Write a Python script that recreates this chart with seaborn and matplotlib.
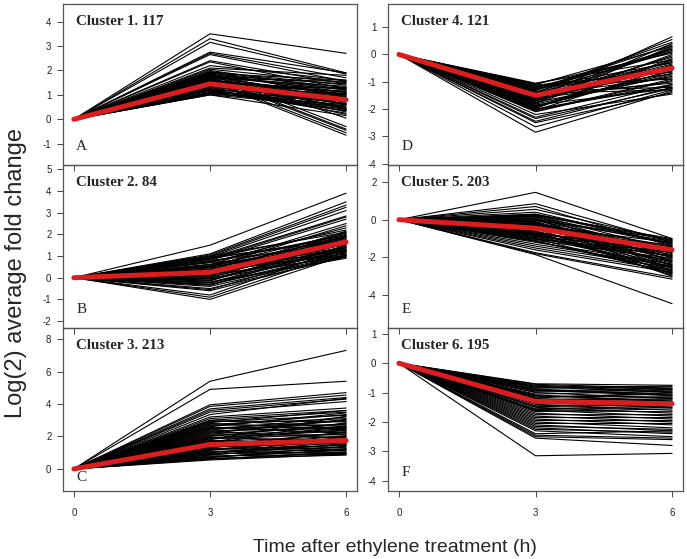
# Six cluster panels: gene expression profiles with mean line in red
import numpy as np
import pandas as pd
import matplotlib
matplotlib.use("Agg")
import matplotlib.pyplot as plt
import seaborn as sns

times = [0, 3, 6]

# values at 3 h and 6 h for each gene line (all start at 0)
c1_t3 = [3.5, 3.3, 3.15, 2.75, 2.7, 2.65, 2.4, 2.35, 2.2, 2.1,
         2.05, 2.0, 1.95, 1.95, 1.9, 1.85, 1.85, 1.8, 1.8, 1.75,
         1.75, 1.7, 1.7, 1.65, 1.6, 1.6, 1.55, 1.5, 1.5, 1.45,
         1.45, 1.4, 1.4, 1.35, 1.3, 1.3, 1.25, 1.2, 1.2, 1.15,
         1.1, 1.1, 1.05, 1.0, 1.0,
         1.85, 1.75, 1.7, 1.6, 1.55, 1.9,
         1.92, 1.78, 1.62, 1.48, 1.38, 1.28, 1.18, 1.08, 1.68, 1.52,
         1.33, 1.22, 1.02, 1.88, 1.58]
c1_t6 = [2.7, 1.9, 1.85, 1.9, 1.7, 1.55, 1.45, 1.25, 1.6, 1.8,
         1.5, 1.2, 1.4, 0.9, 1.3, 1.1, 0.6, 1.45, 0.8, 1.2,
         0.4, 1.0, 1.35, 0.7, 1.1, 0.3, 0.9, 1.25, 0.5, 1.0,
         0.75, 1.15, 0.2, 0.85, 1.05, 0.45, 0.65, 0.95, 0.25, 0.55,
         0.8, 0.35, 0.6, 0.15, 0.5,
         -0.3, -0.4, -0.45, -0.55, -0.65, 0.05,
         0.95, 1.25, 0.45, 1.15, 0.65, 1.3, 0.35, 0.85, 1.55, 0.6,
         1.0, 0.4, 0.75, 1.6, 1.05]
c1_mean = [0, 1.45, 0.8]

c2_t3 = [1.5, 1.1, 1.05, 1.0, 0.95, 0.9, 0.85, 0.8, 0.6, 0.5, 0.7,
         -1.0, -0.9, -0.8, -0.6, -0.55, -0.5,
         1.0, 0.95, 0.9, 0.8, 0.75, 0.7, 0.6, 0.55, 0.5, 0.45,
         0.4, 0.35, 0.3, 0.25, 0.2, 0.2, 0.15, 0.1, 0.05, 0.0,
         -0.05, -0.1, -0.15, -0.2, -0.25, -0.3, -0.35, -0.4,
         0.88, 0.72, 0.62, 0.48, 0.38, 0.28, 0.18, 0.08, -0.02, -0.12,
         -0.22, -0.32, 0.52, 0.32, 0.12]
c2_t6 = [3.9, 3.5, 3.35, 3.25, 3.1, 2.85, 2.8, 2.7, 2.5, 2.4, 2.3,
         1.05, 1.2, 1.4, 1.0, 1.3, 0.95,
         2.1, 1.7, 2.2, 1.5, 1.95, 1.2, 1.8, 2.05, 1.4, 1.0,
         1.9, 1.6, 1.1, 2.15, 1.35, 1.75, 0.95, 1.55, 1.25, 1.85,
         1.05, 1.45, 1.65, 0.9, 1.3, 1.15, 1.5, 1.0,
         1.85, 2.0, 1.3, 1.65, 1.95, 1.1, 1.55, 2.1, 1.2, 1.7,
         1.4, 1.05, 1.75, 1.25, 1.9]
c2_mean = [0, 0.25, 1.65]

c3_t3 = [5.4, 4.9, 3.95, 3.85, 3.7, 3.6, 3.5, 3.35, 3.2, 3.1,
         3.0, 2.95, 2.9, 2.8, 2.75, 2.7, 2.6, 2.55, 2.5, 2.4,
         2.35, 2.3, 2.2, 2.15, 2.1, 2.0, 1.95, 1.9, 1.8, 1.75,
         1.7, 1.6, 1.55, 1.5, 1.45, 1.4, 1.35, 1.3, 1.25, 1.2,
         1.15, 1.1, 1.05, 1.0, 0.95, 0.9, 0.85, 0.8, 0.75, 0.7,
         0.65, 0.6, 0.55,
         2.98, 2.65, 2.45, 2.25, 2.05, 1.85, 1.65, 1.48, 1.32, 1.18,
         1.02, 0.88, 0.72, 0.62, 2.85, 2.52, 1.92, 1.58]
c3_t6 = [7.3, 5.4, 4.7, 4.55, 4.4, 4.3, 4.15, 4.35, 3.75, 3.6,
         3.5, 2.9, 3.3, 2.4, 3.1, 2.7, 3.45, 2.2, 2.95, 3.2,
         2.5, 1.9, 3.0, 2.6, 2.1, 2.8, 1.7, 2.35, 3.25, 1.5,
         2.0, 2.65, 1.3, 1.8, 2.25, 1.2, 1.6, 2.05, 1.1, 1.45,
         1.85, 0.95, 1.35, 1.65, 1.0, 1.25, 1.55, 0.9, 1.15, 1.4,
         0.85, 1.05, 0.9,
         2.6, 3.35, 2.75, 3.05, 2.45, 2.15, 2.85, 1.75, 2.3, 1.95,
         1.5, 2.0, 1.2, 1.0, 3.6, 2.55, 2.4, 1.75]
c3_mean = [0, 1.5, 1.75]

c4_t3 = [-2.85, -2.65, -2.5, -2.45, -2.35, -2.3, -2.2,
         -1.6, -1.4, -1.3, -1.7,
         -1.05, -1.1, -1.15, -1.2, -1.25, -1.3, -1.35, -1.4, -1.45, -1.5,
         -1.55, -1.6, -1.65, -1.7, -1.75, -1.8, -1.85, -1.9, -1.95, -2.0,
         -2.05, -2.1, -1.12, -1.28, -1.42, -1.58, -1.72, -1.88,
         -1.08, -1.18, -1.32, -1.48, -1.62, -1.78, -1.92, -2.02, -1.22, -1.38,
         -1.52, -1.68, -1.82, -1.98, -2.08]
c4_t6 = [-1.35, -1.3, -1.4, -1.2, -1.25, -1.1, -1.45,
         0.65, 0.55, 0.45, 0.4,
         -0.2, 0.3, -0.9, 0.1, -0.5, 0.35, -1.2, -0.3, 0.2, -0.7,
         -0.1, -1.0, 0.25, -0.4, -0.8, 0.0, -1.25, -0.6, -0.15, -1.1,
         -0.45, -0.95, -0.65, 0.15, -1.3, -0.35, -0.05, -0.75,
         0.05, -0.55, 0.2, -0.85, -0.25, 0.3, -0.6, -1.15, -0.3, 0.1,
         -1.05, -0.4, -0.7, -0.2, -0.9]
c4_mean = [0, -1.5, -0.5]

c5_t3 = [1.45, 0.85, 0.7, 0.55, 0.4,
         -1.85, -1.8, -1.75, -1.6, -1.5, -1.4, -1.3,
         0.3, 0.25, 0.2, 0.15, 0.1, 0.05, 0.0, -0.05, -0.1, -0.15,
         -0.2, -0.25, -0.3, -0.35, -0.4, -0.45, -0.5, -0.55, -0.6, -0.65,
         -0.7, -0.75, -0.8, -0.85, -0.9, -0.95, -1.0, -1.05, -1.1, -1.15,
         -1.2,
         0.28, 0.18, 0.08, -0.02, -0.12, -0.22, -0.32, -0.42, -0.52, -0.62,
         -0.72, -0.82, -0.92, -1.02, -1.12, 0.22, -0.28, -0.78]
c5_t6 = [-1.0, -1.2, -1.4, -1.1, -1.3,
         -4.45, -3.15, -3.05, -2.8, -2.7, -2.55, -2.45,
         -1.1, -1.6, -2.2, -1.3, -1.9, -2.6, -1.05, -1.5, -2.0, -2.9,
         -1.4, -1.75, -2.4, -1.2, -2.1, -3.0, -1.65, -1.35, -2.3, -1.85,
         -2.75, -1.45, -1.95, -2.5, -1.55, -2.15, -2.85, -1.7, -2.05, -2.65,
         -2.35,
         -1.25, -1.8, -2.45, -1.15, -2.7, -1.55, -2.0, -2.25, -1.45, -2.95,
         -1.75, -2.2, -2.55, -1.9, -2.8, -1.0, -1.6, -2.4]
c5_mean = [0, -0.45, -1.6]

c6_t3 = [-3.15, -2.55, -2.5, -2.45, -2.4,
         -0.7, -0.75, -0.8, -0.85, -0.9, -0.95, -1.0, -1.05, -1.1, -1.15,
         -1.2, -1.25, -1.3, -1.35, -1.4, -1.45, -1.5, -1.55, -1.6, -1.65,
         -1.7, -1.8, -1.9, -2.0, -2.1, -2.2, -2.3, -0.78, -0.92, -1.08,
         -0.72, -0.82, -0.88, -0.98, -1.12, -1.18, -1.22, -1.32, -1.38, -1.48,
         -1.58, -1.62, -1.75, -1.85, -1.95, -2.05, -2.15, -2.25]
c6_t6 = [-3.07, -2.8, -2.6, -2.55, -2.3,
         -0.75, -0.9, -1.0, -0.8, -1.1, -0.85, -1.2, -0.95, -1.3, -1.05,
         -1.4, -1.15, -1.5, -1.25, -1.6, -1.35, -1.7, -1.45, -1.8, -1.55,
         -1.9, -2.0, -2.1, -2.2, -2.3, -2.4, -2.5, -0.95, -1.1, -1.3,
         -0.85, -0.78, -1.05, -0.9, -1.15, -1.0, -1.25, -1.2, -1.35, -1.4,
         -1.5, -1.65, -1.75, -1.85, -1.95, -2.05, -2.25, -2.35]
c6_mean = [0, -1.3, -1.38]

titles = ["Cluster 1. 117", "Cluster 2. 84", "Cluster 3. 213",
          "Cluster 4. 121", "Cluster 5. 203", "Cluster 6. 195"]
letters = ["A", "B", "C", "D", "E", "F"]
ylims = [(-1.87, 4.72), (-2.32, 5.2), (-1.36, 8.68),
         (-4.05, 1.85), (-5.74, 2.9), (-4.35, 1.2)]
yticks = [range(-1, 5), range(-2, 6), range(0, 9, 2),
          range(-4, 2), range(-4, 3, 2), range(-4, 2)]

clusters = [(c1_t3, c1_t6, c1_mean), (c2_t3, c2_t6, c2_mean),
            (c3_t3, c3_t6, c3_mean), (c4_t3, c4_t6, c4_mean),
            (c5_t3, c5_t6, c5_mean), (c6_t3, c6_t6, c6_mean)]


def long_df(t3, t6):
    rows = []
    for g, (a, b) in enumerate(zip(t3, t6)):
        for t, v in zip(times, [0, a, b]):
            rows.append((g, t, v))
    return pd.DataFrame(rows, columns=["gene", "time", "value"])


sns.set_style("ticks")
plt.rcParams["font.family"] = ["Liberation Sans", "DejaVu Sans"]
plt.rcParams["axes.unicode_minus"] = False

fig = plt.figure(figsize=(6.87, 5.59), dpi=100)

W, H = 687, 559
# panel boxes in pixels (left, top, right, bottom)
col_x = [(63, 357), (388, 683)]
row_y = [(4, 165), (165, 328), (328, 491)]

for i, (t3, t6, mean) in enumerate(clusters):
    col = i // 3
    row = i % 3
    x0, x1 = col_x[col]
    y0, y1 = row_y[row]
    ax = fig.add_axes([x0 / W, 1 - y1 / H, (x1 - x0) / W, (y1 - y0) / H])
    ax.patch.set_alpha(0)

    df = long_df(t3, t6)
    sns.lineplot(data=df, x="time", y="value", units="gene", estimator=None,
                 color="black", lw=0.8, ax=ax, legend=False)
    mdf = pd.DataFrame({"time": times, "value": mean})
    sns.lineplot(data=mdf, x="time", y="value", color="#dc1d1d", lw=3.6,
                 ax=ax, legend=False, solid_capstyle="round")

    ax.set_xlim(-0.24, 6.24)
    ax.set_ylim(*ylims[i])
    ax.set_xticks(times)
    ax.set_yticks(list(yticks[i]))
    ax.set_xlabel("")
    ax.set_ylabel("")
    if row < 2:
        ax.set_xticklabels([])
    ax.tick_params(axis="both", length=4.3, width=0.7, color="#444444",
                   labelsize=7, labelcolor="#222222")
    ax.tick_params(axis="y", pad=4)
    ax.tick_params(axis="x", pad=8)
    for s in ax.spines.values():
        s.set_visible(True)
        s.set_color("#555555")
        s.set_linewidth(0.9)

    ax.annotate(titles[i], xy=(0, 1), xycoords="axes fraction",
                xytext=(9.5, -12.5), textcoords="offset points",
                ha="left", va="center", fontsize=10.8, fontweight="bold",
                family=["Liberation Serif", "DejaVu Serif"])
    off = 10 if letters[i] == "C" else 13.5
    ax.annotate(letters[i], xy=(0, 0), xycoords="axes fraction",
                xytext=(9.5, off), textcoords="offset points",
                ha="left", va="center", fontsize=11,
                family=["Liberation Serif", "DejaVu Serif"])

fig.text(395 / W, 1 - 548 / H, "Time after ethylene treatment (h)",
         ha="center", va="center", fontsize=14)
fig.text(16 / W, 1 - 273 / H, "Log(2) average fold change",
         ha="center", va="center", rotation=90, fontsize=17)

fig.savefig("out.png", dpi=100)
